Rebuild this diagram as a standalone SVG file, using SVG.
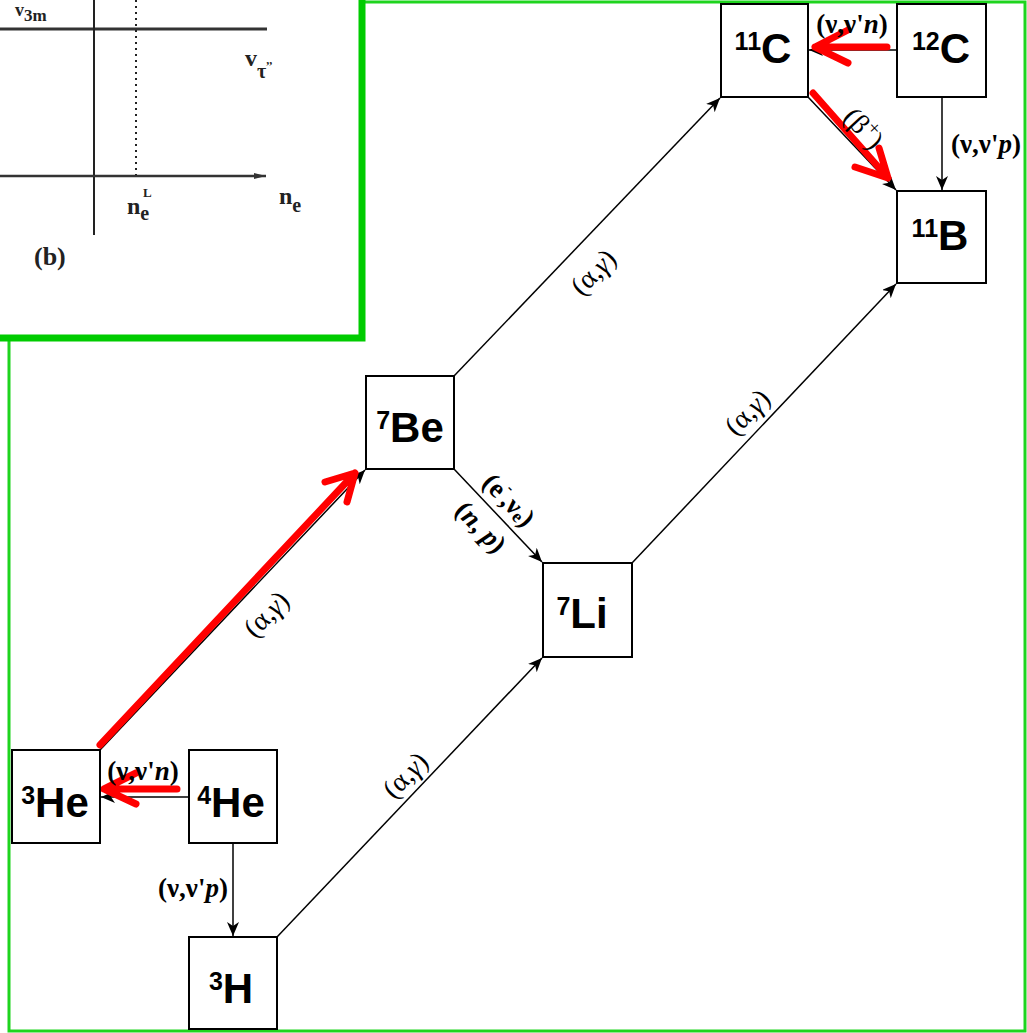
<svg xmlns="http://www.w3.org/2000/svg" width="1027" height="1033" viewBox="0 0 1027 1033">
<defs>
<marker id="ah" markerUnits="userSpaceOnUse" markerWidth="16" markerHeight="14" refX="14" refY="6" orient="auto">
<path d="M0,0 L14,6 L0,12 L4,6 z" fill="#000"/>
</marker>
<marker id="ax" markerUnits="userSpaceOnUse" markerWidth="14" markerHeight="10" refX="12" refY="4" orient="auto">
<path d="M0,1 L12,4 L0,7 z" fill="#333"/>
</marker>
<style>
.box{fill:#fff;stroke:#000;stroke-width:2}
.nl{font-family:"Liberation Sans",Arial,sans-serif;font-weight:bold;font-size:42px;fill:#000}
.sup{font-size:25px}
.con{stroke:#000;stroke-width:1.5;fill:none;marker-end:url(#ah)}
.red{stroke:#ff0000;stroke-width:7;fill:none;stroke-linecap:round;stroke-linejoin:round}
.lb{font-family:"Liberation Serif","Times New Roman",serif;font-weight:bold;font-size:27px;fill:#000}
.ag{font-family:"Liberation Serif","Times New Roman",serif;font-size:28px;fill:#000}
.ins{font-family:"Liberation Serif","Times New Roman",serif;font-weight:bold;fill:#222}
</style>
</defs>
<rect width="1027" height="1033" fill="#fff"/>
<rect x="9" y="2" width="1016" height="1029" fill="none" stroke="#1ed41e" stroke-width="3"/>

<g id="inset">
<rect x="0" y="0" width="362" height="338" fill="#fff"/>
<line x1="0" y1="29" x2="267" y2="29" stroke="#333" stroke-width="3"/>
<line x1="94" y1="0" x2="94" y2="235" stroke="#222" stroke-width="2"/>
<line x1="136" y1="0" x2="136" y2="175" stroke="#222" stroke-width="2" stroke-dasharray="2,4"/>
<line x1="0" y1="176" x2="266" y2="176" stroke="#333" stroke-width="2.5" marker-end="url(#ax)"/>
<text class="ins" x="15" y="16" font-size="18">v<tspan font-size="17" dy="5">3m</tspan></text>
<text class="ins" x="245" y="66" font-size="24">v<tspan font-size="20" dy="12">τ</tspan><tspan font-size="12" dy="-14">,,</tspan></text>
<text class="ins" x="127" y="214" font-size="24">n<tspan font-size="20" dy="6">e</tspan><tspan font-size="13" x="143" y="197">L</tspan></text>
<text class="ins" x="279" y="204" font-size="24">n<tspan font-size="20" dy="8">e</tspan></text>
<text class="ins" x="34" y="265" font-size="26">(b)</text>
<path d="M362,0 V338 H0" fill="none" stroke="#00cc00" stroke-width="7"/>
</g>

<g id="connectors">
<path class="con" d="M897,50 H809"/>
<path class="con" d="M942,97 V190"/>
<path class="con" d="M808,97 L896,190"/>
<path class="con" d="M454,376 L720,98"/>
<path class="con" d="M632,563 L896,284"/>
<path class="con" d="M277,937 L542,658"/>
<path class="con" d="M100,750 L365,470"/>
<path class="con" d="M454,469 L542,562"/>
<path class="con" d="M189,797 H101"/>
<path class="con" d="M233,843 V936"/>
<path class="red" d="M887,47 H815 M848,30 L815,47 L848,63"/>
<path class="red" d="M813,93 L888,178 M855,167 L888,178 L879,148"/>
<path class="red" d="M100,745 L355,473 M325,482 L355,473 L347,502"/>
<path class="red" d="M177,789 H104 M136,773 L104,789 L136,804"/>
<text class="lb" x="852" y="33" text-anchor="middle">(ν,ν'<tspan font-style="italic">n</tspan>)</text>
<text class="lb" x="986" y="153" text-anchor="middle">(ν,ν'<tspan font-style="italic">p</tspan>)</text>
<text class="lb" x="143" y="780" text-anchor="middle">(ν,ν'<tspan font-style="italic">n</tspan>)</text>
<text class="lb" x="193" y="897" text-anchor="middle">(ν,ν'<tspan font-style="italic">p</tspan>)</text>
<text class="ag" text-anchor="middle" dominant-baseline="central" transform="translate(593,272) rotate(-46)">(α,<tspan font-style="italic">γ</tspan>)</text>
<text class="ag" text-anchor="middle" dominant-baseline="central" transform="translate(747,412) rotate(-46)">(α,<tspan font-style="italic">γ</tspan>)</text>
<text class="ag" text-anchor="middle" dominant-baseline="central" transform="translate(405,775) rotate(-46)">(α,<tspan font-style="italic">γ</tspan>)</text>
<text class="ag" text-anchor="middle" dominant-baseline="central" transform="translate(266,614) rotate(-46)">(α,<tspan font-style="italic">γ</tspan>)</text>
<text class="lb" text-anchor="middle" dominant-baseline="central" transform="translate(509,500) rotate(46)">(e<tspan font-size="15" dy="-10">-</tspan><tspan dy="10">,ν</tspan><tspan font-size="18" dy="5">e</tspan><tspan dy="-5">)</tspan></text>
<text class="lb" text-anchor="middle" dominant-baseline="central" transform="translate(481,527) rotate(46)">(<tspan font-style="italic">n</tspan>, <tspan font-style="italic">p</tspan>)</text>
<text class="ag" text-anchor="middle" dominant-baseline="central" transform="translate(864,128) rotate(47)">(β<tspan font-size="20" dy="-8">+</tspan><tspan dy="8">)</tspan></text>
</g>

<g id="n11C"><rect class="box" x="721" y="4" width="87" height="93"/><text class="nl" x="763" y="63" text-anchor="middle"><tspan class="sup" dy="-13">11</tspan><tspan dy="13">C</tspan></text></g>
<g id="n12C"><rect class="box" x="897" y="4" width="89" height="93"/><text class="nl" x="941" y="63" text-anchor="middle"><tspan class="sup" dy="-13">12</tspan><tspan dy="13">C</tspan></text></g>
<g id="n11B"><rect class="box" x="897" y="191" width="89" height="92"/><text class="nl" x="940" y="250" text-anchor="middle"><tspan class="sup" dy="-13">11</tspan><tspan dy="13">B</tspan></text></g>
<g id="n7Be"><rect class="box" x="366" y="376" width="88" height="93"/><text class="nl" x="410" y="442" text-anchor="middle"><tspan class="sup" dy="-13">7</tspan><tspan dy="13">Be</tspan></text></g>
<g id="n7Li"><rect class="box" x="543" y="563" width="89" height="94"/><text class="nl" x="582" y="628" text-anchor="middle"><tspan class="sup" dy="-13">7</tspan><tspan dy="13">Li</tspan></text></g>
<g id="n3He"><rect class="box" x="12" y="750" width="88" height="93"/><text class="nl" x="55" y="817" text-anchor="middle"><tspan class="sup" dy="-13">3</tspan><tspan dy="13">He</tspan></text></g>
<g id="n4He"><rect class="box" x="189" y="750" width="88" height="93"/><text class="nl" x="231" y="817" text-anchor="middle"><tspan class="sup" dy="-13">4</tspan><tspan dy="13">He</tspan></text></g>
<g id="n3H"><rect class="box" x="189" y="937" width="88" height="92"/><text class="nl" x="231" y="1003" text-anchor="middle"><tspan class="sup" dy="-13">3</tspan><tspan dy="13">H</tspan></text></g>
</svg>
